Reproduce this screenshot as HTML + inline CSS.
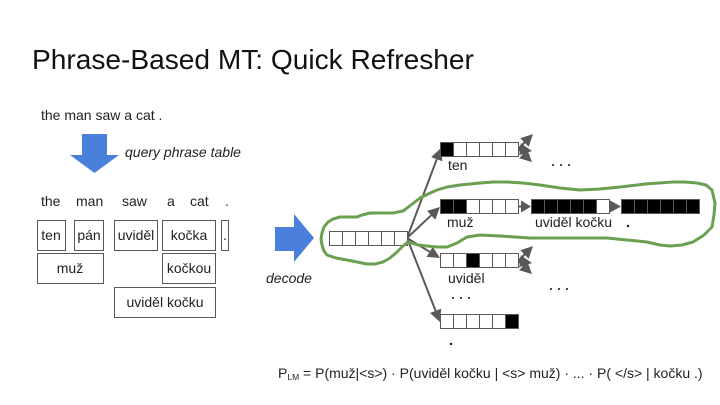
<!DOCTYPE html>
<html>
<head>
<meta charset="utf-8">
<style>
html,body{margin:0;padding:0;background:#fff;}
svg{display:block;}
text{font-family:"Liberation Sans",sans-serif;fill:#222;}
</style>
</head>
<body>
<svg width="720" height="405" viewBox="0 0 720 405" xmlns="http://www.w3.org/2000/svg">
<defs>
<g id="r" stroke="#595959" stroke-width="1">
<rect x="0" y="0" width="13" height="14" fill="#fff"/>
<rect x="13" y="0" width="13" height="14" fill="#fff"/>
<rect x="26" y="0" width="13" height="14" fill="#fff"/>
<rect x="39" y="0" width="13" height="14" fill="#fff"/>
<rect x="52" y="0" width="13" height="14" fill="#fff"/>
<rect x="65" y="0" width="13" height="14" fill="#fff"/>
</g>
<g id="stub" fill="#595959" stroke="none">
<line x1="518" y1="149" x2="525" y2="142" stroke="#595959" stroke-width="2"/>
<line x1="518" y1="149" x2="521" y2="149.300" stroke="#595959" stroke-width="2"/>
<line x1="518" y1="149" x2="524" y2="154" stroke="#595959" stroke-width="2"/>
<polygon points="533,134 528.700,146.700 520.300,138.300"/>
<polygon points="532,151 519.200,155.300 520.800,143.300"/>
<polygon points="532,162 519.100,158.200 527.300,149.400"/>
</g>
</defs>
<rect width="720" height="405" fill="#fff"/>
<text x="32" y="69" font-size="28.1" style="fill:#111">Phrase-Based MT: Quick Refresher</text>
<text x="41" y="120" font-size="14">the man saw a cat .</text>

<polygon points="82,134 107,134 107,155 119,155 94.500,173 70,155 82,155" fill="#4a7fdc"/>
<text x="125" y="157" font-size="14" font-style="italic">query phrase table</text>

<g font-size="14">
<text x="41" y="206">the</text><text x="76" y="206">man</text><text x="122" y="206">saw</text>
<text x="167" y="206">a</text><text x="190" y="206">cat</text><text x="225" y="206">.</text>
</g>

<g fill="#fff" stroke="#595959" stroke-width="1">
<rect x="37.500" y="220.500" width="28" height="30"/>
<rect x="74.500" y="220.500" width="29" height="30"/>
<rect x="114.500" y="220.500" width="43" height="30"/>
<rect x="162.500" y="220.500" width="53" height="30"/>
<rect x="221.500" y="220.500" width="7" height="30"/>
<rect x="37.500" y="253.500" width="66" height="30"/>
<rect x="162.500" y="253.500" width="53" height="30"/>
<rect x="114.500" y="287.500" width="101" height="30"/>
</g>
<g font-size="14" text-anchor="middle">
<text x="51" y="240">ten</text><text x="89" y="240">pán</text><text x="136" y="240">uviděl</text>
<text x="189" y="240">kočka</text><text x="225" y="240">.</text>
<text x="70" y="273">muž</text><text x="189" y="273">kočkou</text><text x="165" y="307">uviděl kočku</text>
</g>

<polygon points="275,227 294,227 294,214 314,238 294,262 294,251 275,251" fill="#4a7fdc"/>
<text x="266" y="283" font-size="14" font-style="italic">decode</text>

<!-- connector lines -->
<g stroke="#595959" stroke-width="2" fill="none">
<line x1="407" y1="238" x2="436.800" y2="159.200"/>
<line x1="407" y1="238" x2="431.200" y2="215.300"/>
<line x1="407" y1="238" x2="429.700" y2="251.800"/>
<line x1="407" y1="238" x2="435.600" y2="310.800"/>
</g>
<g fill="#595959">
<polygon points="441,148 442.400,161.300 431.200,157.100"/>
<polygon points="440,207 435.300,219.700 427.100,210.900"/>
<polygon points="440,258 426.600,256.900 432.800,246.700"/>
<polygon points="440,322 430,313 441.200,308.600"/>
<!-- horizontal arrows -->
<rect x="518" y="205.500" width="5" height="2"/>
<polygon points="531,206.500 521,200.500 521,212.500"/>
<rect x="608" y="205.500" width="4" height="2"/>
<polygon points="621,206.500 610,200.500 610,212.500"/>
</g>
<use href="#stub"/>
<use href="#stub" y="112"/>

<!-- boxes row -->
<use href="#r" x="329.500" y="231.500"/>
<use href="#r" x="440.500" y="142.500"/>
<rect x="440.500" y="142.500" width="13" height="14" fill="#000" stroke="#595959"/>
<use href="#r" x="440.500" y="199.500"/>
<rect x="440.500" y="199.500" width="13" height="14" fill="#000" stroke="#595959"/>
<rect x="453.500" y="199.500" width="13" height="14" fill="#000" stroke="#595959"/>
<use href="#r" x="440.500" y="253.500"/>
<rect x="466.500" y="253.500" width="13" height="14" fill="#000" stroke="#595959"/>
<use href="#r" x="440.500" y="314.500"/>
<rect x="505.500" y="314.500" width="13" height="14" fill="#000" stroke="#595959"/>

<g stroke="#595959" fill="#000">
<rect x="531.500" y="199.500" width="13" height="14"/><rect x="544.500" y="199.500" width="13" height="14"/>
<rect x="557.500" y="199.500" width="13" height="14"/><rect x="570.500" y="199.500" width="13" height="14"/>
<rect x="583.500" y="199.500" width="13" height="14"/><rect x="596.500" y="199.500" width="13" height="14" fill="#fff"/>
<rect x="621.500" y="199.500" width="13" height="14"/><rect x="634.500" y="199.500" width="13" height="14"/>
<rect x="647.500" y="199.500" width="13" height="14"/><rect x="660.500" y="199.500" width="13" height="14"/>
<rect x="673.500" y="199.500" width="13" height="14"/><rect x="686.500" y="199.500" width="13" height="14"/>
</g>

<!-- green curve -->
<polygon points="408,242 418,245 427,246 437,247 447,247 457,243 467,237 480,235 500,236 530,238 573,238 607,238 627,240 647,242 660,245 670,246 682,245 693,242 704,235 712,227 714,215 715,203 712,190 706,185 697,183 685,182 673,182 645,184 620,187 600,189 580,190 560,188 540,185 523,183 507,182 493,182 480,183 460,185 447,187 437,190 428,194 420,198 411,205 403,211 393,213 380,213 370,213 362,215 357,217 348,217 340,217 333,219 328,222 324,227 322,233 321,239 322,245 324,251 327,255 336,258 347,260 357,262 367,264 375,264 383,262 390,258 397,252 403,246" fill="none" stroke="#6aa051" stroke-width="3" stroke-linecap="round" stroke-linejoin="round"/>

<g font-size="14">
<text x="448" y="170">ten</text>
<text x="447" y="227">muž</text>
<text x="448" y="283">uviděl</text>
<text x="535" y="227">uviděl kočku</text>
</g>
<g fill="#111">
<circle cx="628" cy="226" r="1.200"/>
<circle cx="451" cy="344" r="1.200"/>
<circle cx="553" cy="165" r="1"/><circle cx="561" cy="165" r="1"/><circle cx="569" cy="165" r="1"/>
<circle cx="453" cy="298" r="1"/><circle cx="461" cy="298" r="1"/><circle cx="469" cy="298" r="1"/>
<circle cx="551" cy="289" r="1"/><circle cx="559" cy="289" r="1"/><circle cx="567" cy="289" r="1"/>
</g>

<text x="278" y="378" font-size="14">P<tspan font-size="8.500" dy="2">LM</tspan><tspan dy="-2"> = P(muž|&lt;s&gt;) · P(uviděl kočku | &lt;s&gt; muž) · ... · P( &lt;/s&gt; | kočku .)</tspan></text>
</svg>
</body>
</html>
